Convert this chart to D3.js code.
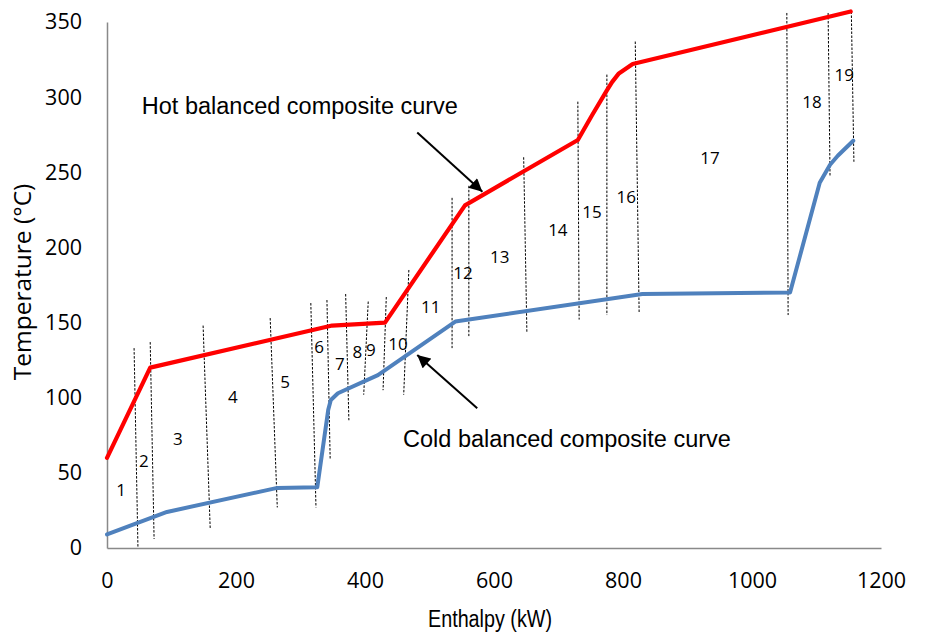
<!DOCTYPE html>
<html>
<head>
<meta charset="utf-8">
<script src="https://cdn.jsdelivr.net/npm/d3@7"></script>
<style>
  html, body { margin: 0; padding: 0; background: #fff; }
  svg { display: block; }
</style>
</head>
<body>
<svg id="chart" width="933" height="634"></svg>
<script>
// ---- data ----
const xTicks = [0, 200, 400, 600, 800, 1000, 1200];
const yTicks = [0, 50, 100, 150, 200, 250, 300, 350];

// Hot balanced composite curve (enthalpy kW, temperature °C)
const hotH = [0, 67, 349, 431, 555, 730, 752, 775, 783, 793, 815, 1153];
const hotT = [60, 120, 148, 150, 228, 271.5, 288, 304.5, 310, 315.5, 322, 357];

// Cold balanced composite curve
const coldH = [0, 93, 264, 326, 343, 347, 358, 420, 540, 830, 1059, 1105, 1121, 1133, 1157];
const coldT = [9, 24, 40, 40.5, 92, 98.5, 103, 115, 150.7, 169, 170, 243, 255, 261, 271];

// Interval boundaries (dotted): top point and bottom point
const bTopH = [42, 67, 149, 253, 316, 341, 370, 405, 433, 468, 535, 561, 646, 730, 775, 819, 1054, 1118, 1154];
const bTopT = [133, 137, 148, 153, 163, 165, 169, 164, 167, 185, 233, 241, 260, 297, 315, 337, 356, 356, 357];
const bBotH = [48, 73, 160, 264, 324, 346, 375, 398, 428, 460, 535, 561, 651, 732, 775, 825, 1056, 1121, 1158];
const bBotT = [0, 6, 13, 27, 27, 59, 85, 102, 105, 102, 133, 141, 143, 152, 155, 157, 155, 247, 257];

// Interval number labels
const intervalLabels = ["1","2","3","4","5","6","7","8","9","10","11","12","13","14","15","16","17","18","19"];
const labelH = [22, 57, 110, 195, 276, 329, 361, 388, 409, 451, 502, 552, 609, 699, 752, 805, 935, 1093, 1143];
const labelT = [39, 58, 73, 101, 111, 134, 123, 131, 132, 136, 161, 183, 194, 212, 224, 234, 260, 297, 315];

// Annotations
const annoText = ["Hot balanced composite curve", "Cold balanced composite curve"];
const annoH = [54, 459];
const annoT = [289, 67];
const arrowFromH = [481, 574];
const arrowFromT = [276.5, 93];
const arrowToH = [582, 481];
const arrowToT = [237, 128.5];

// ---- drawing ----
const svg = d3.select("#chart");
const x = d3.scaleLinear().domain([0, 1200]).range([107, 881]);
const y = d3.scaleLinear().domain([0, 350]).range([548, 22]);

svg.append("defs").append("marker")
  .attr("id", "arrow")
  .attr("viewBox", "0 0 10 10")
  .attr("refX", 10).attr("refY", 5)
  .attr("markerWidth", 14).attr("markerHeight", 13)
  .attr("markerUnits", "userSpaceOnUse")
  .attr("orient", "auto")
  .append("path").attr("d", "M0,0 L10,5 L0,10 z").attr("fill", "#000");

// axes
const xAxis = svg.append("g").attr("transform", "translate(0,548)")
  .call(d3.axisBottom(x).tickValues(xTicks).tickSize(0).tickPadding(25).tickFormat(d3.format("d")));
const yAxis = svg.append("g").attr("transform", "translate(107,0)")
  .call(d3.axisLeft(y).tickValues(yTicks).tickSize(0).tickPadding(25).tickFormat(d3.format("d")));
[xAxis, yAxis].forEach(g => {
  g.select(".domain").attr("stroke", "#898989").attr("stroke-width", 1.5);
  g.selectAll("text").attr("font-family", "'Open Sans', sans-serif").attr("font-size", 21.5).attr("fill", "#000");
});

// dotted interval lines
svg.append("g").selectAll("line").data(bTopH).join("line")
  .attr("x1", (d, i) => x(bTopH[i])).attr("y1", (d, i) => y(bTopT[i]))
  .attr("x2", (d, i) => x(bBotH[i])).attr("y2", (d, i) => y(bBotT[i]))
  .attr("stroke", "#000").attr("stroke-width", 1).attr("stroke-dasharray", "2.5,1.5");

// curves
const line = d3.line().x(d => x(d[0])).y(d => y(d[1]));
svg.append("path").datum(coldH.map((h, i) => [h, coldT[i]]))
  .attr("d", line).attr("fill", "none").attr("stroke", "#4f81bd")
  .attr("stroke-width", 4).attr("stroke-linejoin", "round").attr("stroke-linecap", "round");
svg.append("path").datum(hotH.map((h, i) => [h, hotT[i]]))
  .attr("d", line).attr("fill", "none").attr("stroke", "#ff0000")
  .attr("stroke-width", 4.2).attr("stroke-linejoin", "round").attr("stroke-linecap", "round");

// interval labels
svg.append("g").selectAll("text").data(intervalLabels).join("text")
  .attr("x", (d, i) => x(labelH[i])).attr("y", (d, i) => y(labelT[i]))
  .attr("text-anchor", "middle").attr("dominant-baseline", "central")
  .attr("font-family", "'Open Sans', sans-serif").attr("font-size", 17).attr("fill", "#000")
  .text(d => d);

// annotations
svg.append("g").selectAll("text").data(annoText).join("text")
  .attr("x", (d, i) => x(annoH[i])).attr("y", (d, i) => y(annoT[i]))
  .attr("font-family", "'Liberation Sans', Arial, sans-serif").attr("font-size", 23.5).attr("fill", "#000")
  .text(d => d);
svg.append("g").selectAll("line").data(arrowFromH).join("line")
  .attr("x1", (d, i) => x(arrowFromH[i])).attr("y1", (d, i) => y(arrowFromT[i]))
  .attr("x2", (d, i) => x(arrowToH[i])).attr("y2", (d, i) => y(arrowToT[i]))
  .attr("stroke", "#000").attr("stroke-width", 2).attr("marker-end", "url(#arrow)");

// axis titles
svg.append("text").attr("x", 490).attr("y", 627)
  .attr("text-anchor", "middle").attr("font-family", "'Liberation Sans', Arial, sans-serif")
  .attr("font-size", 23).attr("textLength", 124).attr("lengthAdjust", "spacingAndGlyphs")
  .attr("fill", "#000").text("Enthalpy (kW)");
svg.append("text").attr("transform", "translate(31,282) rotate(-90)")
  .attr("text-anchor", "middle").attr("font-family", "'Open Sans', sans-serif")
  .attr("font-size", 24.5).attr("fill", "#000").text("Temperature (°C)");
</script>
</body>
</html>
